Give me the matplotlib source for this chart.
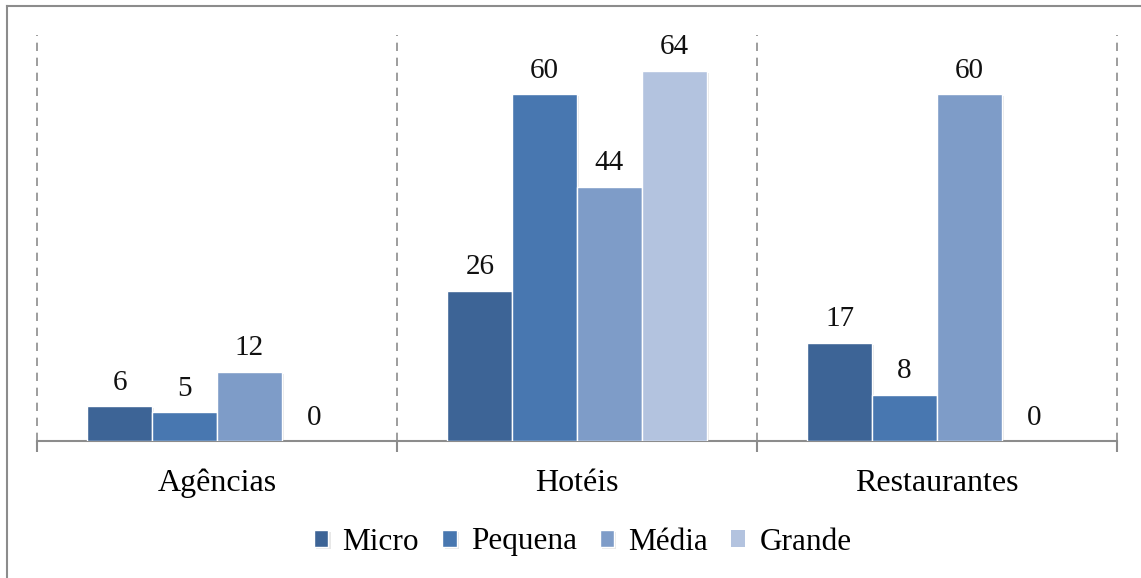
import matplotlib
matplotlib.use("Agg")
import matplotlib.pyplot as plt
import matplotlib.patheffects as pe
from matplotlib.lines import Line2D
import numpy as np

categories = ["Agências", "Hotéis", "Restaurantes"]
series = ["Micro", "Pequena", "Média", "Grande"]
micro = [6, 26, 17]
pequena = [5, 60, 8]
media = [12, 44, 60]
grande = [0, 64, 0]
values = [micro, pequena, media, grande]
colors = ["#3D6496", "#4877B0", "#7E9CC8", "#B3C3DF"]

plt.rcParams["font.family"] = ["Liberation Serif", "DejaVu Serif"]

W, H = 1141, 578
fig = plt.figure(figsize=(W / 100, H / 100), dpi=100)
ax = fig.add_axes([37 / W, 137 / H, (1117 - 37) / W, (441 - 35) / H])

grid_color = "#8C8C8C"
bar_w = 0.18
offsets = (np.arange(len(series)) - 1.5) * bar_w
x = np.arange(len(categories))

for i, (name, vals, col) in enumerate(zip(series, values, colors)):
    bars = ax.bar(x + offsets[i], vals, width=bar_w, color=col, label=name,
                  edgecolor="white", linewidth=1.0, zorder=3)
    for b, v in zip(bars, vals):
        if v == 0:
            b.set_linewidth(0)
            continue
        b.set_path_effects([pe.SimplePatchShadow(offset=(1.5, -1.5), alpha=0.18,
                                                 shadow_rgbFace="#808080"),
                            pe.Normal()])
    for xi, v in zip(x + offsets[i], vals):
        ax.annotate(f"{v}", (xi, v), xytext=(0, 7.5), textcoords="offset points",
                    ha="center", va="bottom", fontsize=21, color="#111111")

ax.set_xlim(-0.5, 2.5)
ax.set_ylim(0, 70.2)

# dashed separators between categories
for b in np.arange(-0.5, 3.0, 1.0):
    ax.axvline(b, color=grid_color, linestyle=(0, (5, 4)), linewidth=1.2, zorder=1,
               clip_on=False)

for s in ["top", "right", "left"]:
    ax.spines[s].set_visible(False)
ax.spines["bottom"].set_color(grid_color)
ax.spines["bottom"].set_linewidth(1.5)
ax.set_yticks([])
ax.set_xticks(x)
ax.set_xticklabels(categories, fontsize=23)
ax.tick_params(axis="x", which="major", length=0, pad=20)
ax.set_xticks(np.arange(-0.5, 3.0, 1.0), minor=True)
ax.tick_params(axis="x", which="minor", length=8, width=1.5, color=grid_color)

leg = fig.legend(loc="center", bbox_to_anchor=(583 / W, 1 - 542 / H), ncol=4,
                 frameon=False, fontsize=22.5, handlelength=0.45, handleheight=0.45,
                 handletextpad=0.45, columnspacing=0.75)

# chart frame
fig.add_artist(Line2D([7 / W, 7 / W], [1 - 6 / H, 0], transform=fig.transFigure,
                      color=grid_color, linewidth=1.5))
fig.add_artist(Line2D([7 / W, 1], [1 - 6 / H, 1 - 6 / H], transform=fig.transFigure,
                      color=grid_color, linewidth=1.5))

fig.savefig("out.png", dpi=100)
